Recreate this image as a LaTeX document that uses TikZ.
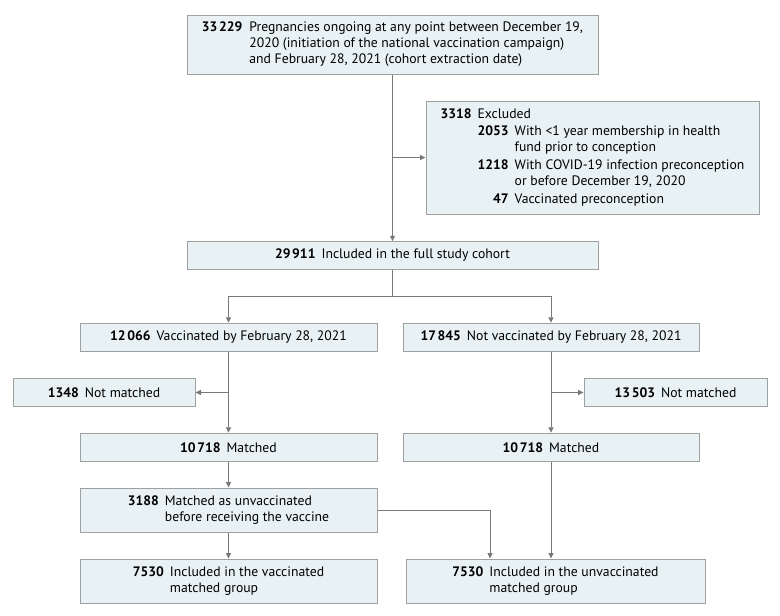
\documentclass[tikz,border=0pt]{standalone}
\usepackage{fontspec}
\setmainfont{PT Sans}
\usetikzlibrary{arrows.meta}
\definecolor{boxfill}{RGB}{232,242,244}
\definecolor{boxline}{RGB}{160,160,160}
\definecolor{connc}{RGB}{120,120,120}
\newcommand{\numgap}{\hspace{1.6pt}}
\begin{document}
\begin{tikzpicture}[x=1pt,y=1pt,
  box/.style={draw=boxline, line width=1pt, fill=boxfill, inner sep=0pt,
    font=\fontsize{13.7}{15.8}\selectfont, align=center},
  conn/.style={draw=connc, line width=0.9pt},
  arr/.style={conn, -{Triangle[length=5.5pt,width=5pt]}}]
\useasboundingbox (0,0) rectangle (780,-616);

\node[box, minimum width=411pt, minimum height=59pt] (top) at (392.5,-44.5)
  {\begin{tabular}{@{}r@{\hspace{7pt}}l@{}}
   \textbf{33\numgap229} & Pregnancies ongoing at any point between December 19,\\
   & 2020 (initiation of the national vaccination campaign)\\
   & and February 28, 2021 (cohort extraction date)
   \end{tabular}};

\node[box, minimum width=333pt, minimum height=113pt] (excl) at (592.5,-157.5)
  {\begin{tabular}{@{}r@{\hspace{6pt}}r@{\hspace{6pt}}l@{}}
   \textbf{3318} & \multicolumn{2}{@{}l@{}}{Excluded}\\[2pt]
   & \textbf{2053} & With <1 year membership in health\\
   & & fund prior to conception\\[2pt]
   & \textbf{1218} & With COVID-19 infection preconception\\
   & & or before December 19, 2020\\[2pt]
   & \textbf{47} & Vaccinated preconception
   \end{tabular}};

\node[box, minimum width=411pt, minimum height=27.5pt] (coh) at (392.5,-255.5)
  {\textbf{29\numgap911}\hspace{6pt}Included in the full study cohort};

\node[box, minimum width=297pt, minimum height=28.5pt] (vacc) at (228.5,-337.5)
  {\textbf{12\numgap066}\hspace{6pt}Vaccinated by February 28, 2021};
\node[box, minimum width=296pt, minimum height=28.5pt] (nvacc) at (551,-337.5)
  {\textbf{17\numgap845}\hspace{6pt}Not vaccinated by February 28, 2021};

\node[box, minimum width=182pt, minimum height=28.5pt] (nm1) at (104,-392.5)
  {\textbf{1348}\hspace{6pt}Not matched};
\node[box, minimum width=183pt, minimum height=28.5pt] (nm2) at (675.5,-392.5)
  {\textbf{13\numgap503}\hspace{6pt}Not matched};

\node[box, minimum width=297pt, minimum height=28.5pt] (m1) at (228.5,-447.5)
  {\textbf{10\numgap718}\hspace{6pt}Matched};
\node[box, minimum width=296pt, minimum height=28.5pt] (m2) at (551,-447.5)
  {\textbf{10\numgap718}\hspace{6pt}Matched};

\node[box, minimum width=297pt, minimum height=44pt] (b3) at (228.5,-510)
  {\begin{tabular}{@{}r@{\hspace{6pt}}l@{}}
   \textbf{3188} & Matched as unvaccinated\\
   & before receiving the vaccine
   \end{tabular}};

\node[box, minimum width=297pt, minimum height=44pt] (bl) at (228.5,-581)
  {\begin{tabular}{@{}r@{\hspace{6pt}}l@{}}
   \textbf{7530} & Included in the vaccinated\\
   & matched group
   \end{tabular}};
\node[box, minimum width=299pt, minimum height=44pt] (br) at (555.5,-581)
  {\begin{tabular}{@{}r@{\hspace{6pt}}l@{}}
   \textbf{7530} & Included in the unvaccinated\\
   & matched group
   \end{tabular}};

\draw[arr] (top.south) -- (coh.north);
\draw[arr] (top.south |- excl.west) -- (excl.west);
\draw[conn] (coh.south) -- ++(0,-27) coordinate (split);
\draw[arr] (split) -| (vacc.north);
\draw[arr] (split) -| (nvacc.north);
\draw[arr] (vacc.south) -- (m1.north);
\draw[arr] (vacc.south |- nm1.east) -- (nm1.east);
\draw[arr] (nvacc.south) -- (m2.north);
\draw[arr] (nvacc.south |- nm2.west) -- (nm2.west);
\draw[arr] (m1.south) -- (b3.north);
\draw[arr] (b3.south) -- (bl.north);
\draw[arr] (b3.east) -| ([xshift=-65.5pt]br.north);
\draw[arr] (m2.south) -- (m2.south |- br.north);
\end{tikzpicture}
\end{document}
